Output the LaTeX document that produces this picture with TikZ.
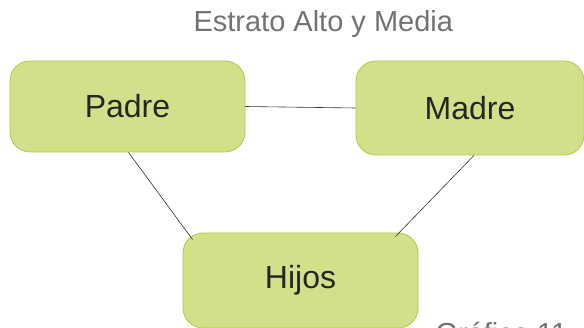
\documentclass[tikz,border=0pt]{standalone}
\usepackage{fontspec}
\setmainfont{Liberation Sans}
\usepackage{tikz}
\usetikzlibrary{calc}

\definecolor{boxfill}{RGB}{210,225,137}
\definecolor{boxline}{RGB}{168,204,74}
\definecolor{titlegray}{RGB}{115,115,115}

\begin{document}
\begin{tikzpicture}[x=1pt, y=1pt,
    member/.style={draw=boxline, fill=boxfill, line width=0.8pt, rounded corners=20pt,
                   inner sep=0pt, font=\fontsize{32}{38}\selectfont, text=black!85},
    caption/.style={titlegray, font=\fontsize{29}{34}\selectfont, anchor=base west},
    tie/.style={black!80, line width=0.6pt}]
        \useasboundingbox [fill=white] (0,0) rectangle (584,327);

        \node [caption] (title) at (190,295) {Estrato Alto y Media};

        \node [member, minimum width=235pt, minimum height=91pt] (padre) at (127.5,220.5) {Padre};
        \node [member, minimum width=228pt, minimum height=94pt] (madre) at (470,219)   {Madre};
        \node [member, minimum width=235pt, minimum height=95pt] (hijos) at (300.5,46.5) {Hijos};

        \draw [tie] (padre.east)  -- (madre.west);
        \draw [tie] ([xshift=1pt]padre.south) -- ([shift={(10pt,-7pt)}]hijos.north west);
        \draw [tie] ([xshift=4pt]madre.south) -- ([shift={(-23pt,-4pt)}]hijos.north east);

        \node [caption] (grafico) at (432,-16) {Gráfico 11};
\end{tikzpicture}
\end{document}
